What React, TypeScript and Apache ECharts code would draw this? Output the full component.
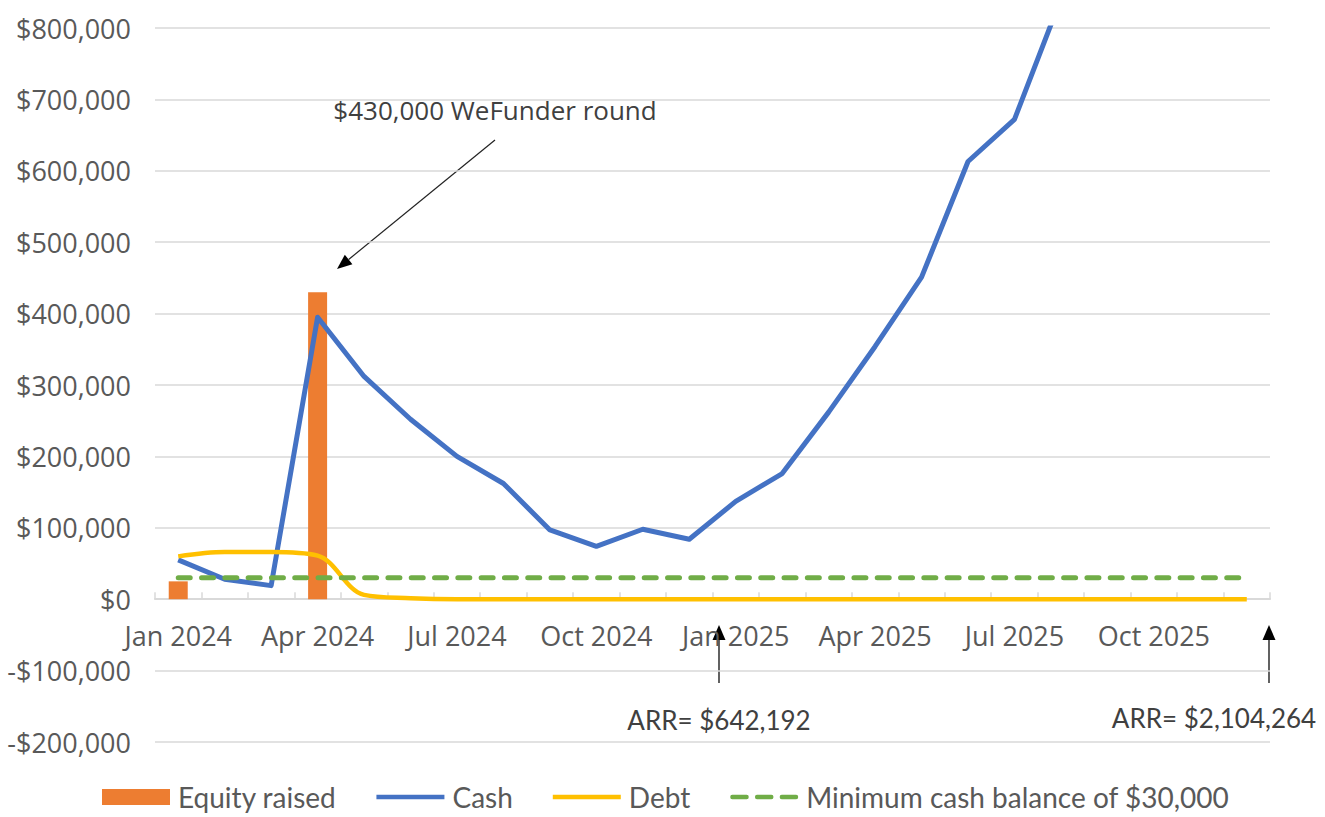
import React, { useEffect, useRef } from "react";
import * as echarts from "echarts";

const months = [
  "Jan 2024", "Feb 2024", "Mar 2024", "Apr 2024", "May 2024", "Jun 2024",
  "Jul 2024", "Aug 2024", "Sep 2024", "Oct 2024", "Nov 2024", "Dec 2024",
  "Jan 2025", "Feb 2025", "Mar 2025", "Apr 2025", "May 2025", "Jun 2025",
  "Jul 2025", "Aug 2025", "Sep 2025", "Oct 2025", "Nov 2025", "Dec 2025",
];

const equityRaised = [
  25000, null, null, 430000, null, null, null, null, null, null, null, null,
  null, null, null, null, null, null, null, null, null, null, null, null,
];

// Values above $800,000 run off the top of the chart; later months are not readable.
const cash = [
  55000, 28000, 19000, 395000, 312000, 252000, 200000, 162000, 97000, 74000, 98000, 84000,
  137000, 176000, 262000, 354000, 451000, 613000, 672000, 841000, null, null, null, null,
];

const debt = [
  60000, 66000, 66000, 61000, 6000, 1500, 0, 0, 0, 0, 0, 0,
  0, 0, 0, 0, 0, 0, 0, 0, 0, 0, 0, 0,
];

const minimumCash = months.map(() => 30000);

const yTicks = { min: -200000, max: 800000, interval: 100000 };

const annotationText = "$430,000 WeFunder round";
const arrLabels = ["ARR= $642,192", "ARR= $2,104,264"];

const TEXT = "#595959";
const GRID = "#d9d9d9";
const NARROW = 'Lato, "Noto Sans", sans-serif';
const WIDE = '"Open Sans", "Noto Sans", sans-serif';

const GRID_TOP = 28;
const GRID_BOTTOM = 75;
const CHART_H = 817;

function fmt(v: number) {
  const s = "$" + Math.abs(v).toLocaleString("en-US");
  return v < 0 ? "-" + s : s;
}

function upArrow(x: number, tipY: number, bottomY: number) {
  return [
    {
      type: "line",
      shape: { x1: x, y1: bottomY, x2: x, y2: tipY + 12 },
      style: { stroke: "#3a3a3a", lineWidth: 1.6 },
    },
    {
      type: "polygon",
      shape: { points: [[x, tipY], [x - 6.5, tipY + 15], [x + 6.5, tipY + 15]] },
      style: { fill: "#000" },
    },
  ];
}

export default function App() {
  const ref = useRef<HTMLDivElement>(null);

  useEffect(() => {
    document.body.style.margin = "0";
    const chart = echarts.init(ref.current!, null, { renderer: "svg" });

    // x axis sits at y = 0: distance of zero from the grid bottom
    const gridH = CHART_H - GRID_TOP - GRID_BOTTOM;
    const zeroOffset = ((0 - yTicks.min) / (yTicks.max - yTicks.min)) * gridH;

    // WeFunder arrow geometry
    const sx = 495, sy = 140, tx = 337, ty = 269;
    const dx = tx - sx, dy = ty - sy;
    const len = Math.sqrt(dx * dx + dy * dy);
    const ux = dx / len, uy = dy / len;
    const px = -uy, py = ux;
    const bx = tx - 15 * ux, by = ty - 15 * uy;

    const lineIcon = "path://M0,0 L66,0 L66,4.5 L0,4.5 Z";
    const dashIcon =
      "path://M2,0 L16,0 Q18,0 18,2.25 Q18,4.5 16,4.5 L2,4.5 Q0,4.5 0,2.25 Q0,0 2,0 Z " +
      "M26,0 L40,0 Q42,0 42,2.25 Q42,4.5 40,4.5 L26,4.5 Q24,4.5 24,2.25 Q24,0 26,0 Z " +
      "M50,0 L64,0 Q66,0 66,2.25 Q66,4.5 64,4.5 L50,4.5 Q48,4.5 48,2.25 Q48,0 50,0 Z";

    chart.setOption({
      animation: false,
      backgroundColor: "#fff",
      grid: { left: 155, right: 55, top: GRID_TOP, bottom: GRID_BOTTOM },
      legend: {
        bottom: 1,
        left: 97,
        itemWidth: 68,
        itemHeight: 16,
        itemGap: 40,
        textStyle: { color: TEXT, fontSize: 28, fontFamily: NARROW, padding: [0, 0, 0, 3] },
        data: [
          { name: "Equity raised", icon: "rect" },
          { name: "Cash", icon: lineIcon },
          { name: "Debt", icon: lineIcon },
          { name: "Minimum cash balance of $30,000", icon: dashIcon },
        ],
      },
      xAxis: {
        type: "category",
        data: months,
        boundaryGap: true,
        position: "bottom",
        offset: -zeroOffset,
        axisLine: { onZero: false, lineStyle: { color: GRID, width: 2 } },
        axisTick: { show: true, inside: true, length: 7, interval: 0, lineStyle: { color: GRID, width: 1.5 } },
        axisLabel: { interval: 2, color: TEXT, fontSize: 27, fontFamily: WIDE, margin: 23 },
        splitLine: { show: false },
      },
      yAxis: {
        type: "value",
        min: yTicks.min,
        max: yTicks.max,
        interval: yTicks.interval,
        axisLine: { show: false },
        axisTick: { show: false },
        axisLabel: { color: TEXT, fontSize: 27, fontFamily: WIDE, margin: 24, formatter: (v: number) => fmt(v) },
        splitLine: { lineStyle: { color: GRID, width: 1.5 } },
      },
      series: [
        {
          name: "Equity raised",
          type: "bar",
          data: equityRaised,
          barWidth: 19,
          itemStyle: { color: "#ED7D31" },
        },
        {
          name: "Cash",
          type: "line",
          data: cash,
          symbol: "none",
          connectNulls: false,
          lineStyle: { color: "#4472C4", width: 5, join: "round" },
          itemStyle: { color: "#4472C4" },
        },
        {
          name: "Debt",
          type: "line",
          data: debt,
          symbol: "none",
          smooth: 0.35,
          lineStyle: { color: "#FFC000", width: 4.5 },
          itemStyle: { color: "#FFC000" },
        },
        {
          name: "Minimum cash balance of $30,000",
          type: "line",
          data: minimumCash,
          symbol: "none",
          lineStyle: { color: "#70AD47", width: 5, type: [12, 11.3], cap: "round" },
          itemStyle: { color: "#70AD47" },
        },
      ],
      graphic: [
        {
          type: "text",
          x: 495,
          y: 110,
          style: {
            text: annotationText,
            fill: "#404040",
            font: `26px ${WIDE}`,
            align: "center",
            verticalAlign: "middle",
          },
        },
        {
          type: "line",
          shape: { x1: sx, y1: sy, x2: bx, y2: by },
          style: { stroke: "#222", lineWidth: 1.2 },
        },
        {
          type: "polygon",
          shape: {
            points: [
              [tx, ty],
              [bx + 6 * px, by + 6 * py],
              [bx - 6 * px, by - 6 * py],
            ],
          },
          style: { fill: "#000" },
        },
        ...upArrow(719, 625, 683),
        ...upArrow(1269, 625, 683),
        {
          type: "text",
          x: 719,
          y: 720,
          style: { text: arrLabels[0], fill: "#404040", font: `26px ${NARROW}`, align: "center", verticalAlign: "middle" },
        },
        {
          type: "text",
          x: 1214,
          y: 718,
          style: { text: arrLabels[1], fill: "#404040", font: `26px ${NARROW}`, align: "center", verticalAlign: "middle" },
        },
      ],
    });

    return () => chart.dispose();
  }, []);

  return <div ref={ref} style={{ width: 1325, height: 817 }} />;
}
